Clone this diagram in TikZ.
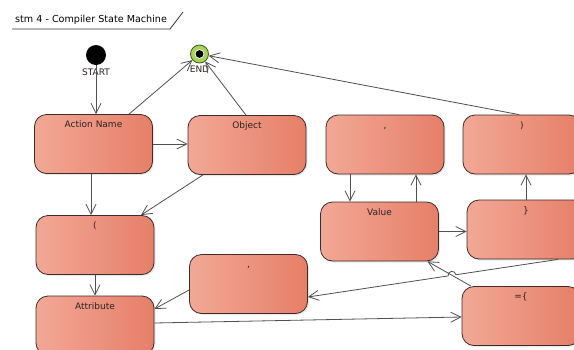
\documentclass[tikz,border=0pt]{standalone}
\usepackage{fontspec}
\setmainfont{DejaVu Sans}
\usetikzlibrary{arrows.meta,calc,shadows,intersections}
\definecolor{boxL}{HTML}{F2A896}
\definecolor{boxR}{HTML}{E67F68}
\definecolor{boxline}{HTML}{3E2B2B}
\definecolor{lineC}{HTML}{505050}
\definecolor{txtC}{HTML}{2E2222}
\definecolor{endG}{HTML}{A6D35C}
\definecolor{endD}{HTML}{3B5A1C}
\begin{document}
\begin{tikzpicture}[x=1pt,y=-1pt,
  state/.style={rectangle, rounded corners=12pt, draw=boxline, line width=0.8pt,
    left color=boxL, right color=boxR, minimum width=118pt, minimum height=59pt,
    inner sep=0pt,
    drop shadow={opacity=0.18, shadow xshift=1.5pt, shadow yshift=-1.5pt}},
  lbl/.style={anchor=center, yshift=-11pt, inner sep=0pt, text=txtC,
    text height=7pt, text depth=2pt,
    font=\fontsize{9}{10}\selectfont},
  conn/.style={draw=lineC, line width=0.8pt,
    -{Straight Barb[length=10pt,width=10pt,line width=0.8pt]}},
  pseudo/.style={circle, inner sep=0pt, minimum size=#1},
  plbl/.style={anchor=center, inner sep=0pt, text=txtC,
    font=\fontsize{9}{10}\selectfont}
]
\clip (0,0) rectangle (574,349);
\fill[white] (0,0) rectangle (574,349);

% frame tab
\node[anchor=west, inner sep=0pt, text=black, font=\fontsize{9.6}{11}\selectfont] (title) at (15,20) {stm 4 - Compiler State Machine};
\draw[line width=0.8pt, black!80] (12,29) -- (170,29) -- (183,12);

% pseudo states
\node[pseudo=20pt, fill=black,
  label={[plbl, yshift=-7pt]south:START}] (START) at (96,55) {};
\node[pseudo=18pt, fill=endG, draw=endD, line width=0.8pt,
  path picture={\fill[white] (path picture bounding box.center) circle (4.8pt);
                \fill[black] (path picture bounding box.center) circle (3.9pt);},
  label={[plbl, yshift=-6pt]south:END}] (END) at (199.5,54) {};

% states
\node[state, label={[lbl]north:Action Name}] (AN) at (93.5,144) {};
\node[state, label={[lbl]north:Object}] (OB) at (247,145) {};
\node[state, label={[lbl]north:{,}}] (CM) at (385,144.5) {};
\node[state, label={[lbl]north:)}] (RP) at (522,144.5) {};
\node[state, label={[lbl]north:(}] (LP) at (95,245) {};
\node[state, label={[lbl]north:Attribute}] (AT) at (95,325.5) {};
\node[state, label={[lbl]north:{,}}] (QT) at (248.5,284) {};
\node[state, label={[lbl]north:Value}] (VA) at (379.5,231.5) {};
\node[state, label={[lbl]north:\}}] (RB) at (526,229.5) {};
\node[state, label={[lbl]north:=\{}] (EQ) at (521,316) {};

% connectors
\draw[conn] (START) -- (START |- AN.north);
\draw[conn] ([xshift=35.5pt]AN.north) -- (END);
\draw[conn] ([xshift=-1pt]OB.north) -- (END);
\draw[conn] ([xshift=-3pt]RP.north) -- (END);
\draw[conn] (AN.east) -- (OB.west |- AN.east);
\draw[conn] ([xshift=-2.5pt]AN.south) -- ([xshift=-2.5pt]AN.south |- LP.north);
\draw[conn] ([xshift=-44pt]OB.south) -- ([xshift=46pt]LP.north);
\draw[conn] (LP.south) -- (AT.north);
\draw[conn] ([yshift=-6pt]QT.west) -- ([yshift=16.5pt]AT.east);
\draw[conn] ([yshift=2.5pt]AT.east) -- ([yshift=-1pt]EQ.west);
\draw[conn] ([xshift=-35pt]CM.south) -- ([xshift=-35pt]CM.south |- VA.north);
\draw[conn] ([xshift=36.5pt]VA.north) -- ([xshift=36.5pt]VA.north |- CM.south);
\draw[conn] (VA.east) -- (VA.east -| RB.west);
\draw[conn] (RB.north) -- (RB.north |- RP.south);

% crossing pair
\coordinate (eqs) at ([xshift=-50pt]EQ.north);
\coordinate (vae) at ([xshift=48pt]VA.south);
\coordinate (rbs) at ([xshift=32pt]RB.south);
\coordinate (qte) at ([yshift=-13pt]QT.east);
\path[name path=pA] (rbs) -- (qte);
\path[name path=pB] (eqs) -- (vae);
\path[name intersections={of=pA and pB, by=X}];
\draw[conn] let \p1=($(rbs)-(X)$), \n1={atan2(\y1,\x1)} in
  (rbs) -- ($(X)!4pt!(rbs)$) arc[start angle=\n1, end angle=\n1+180, radius=4pt] -- (qte);
\draw[conn] (eqs) -- (vae);
\end{tikzpicture}
\end{document}
